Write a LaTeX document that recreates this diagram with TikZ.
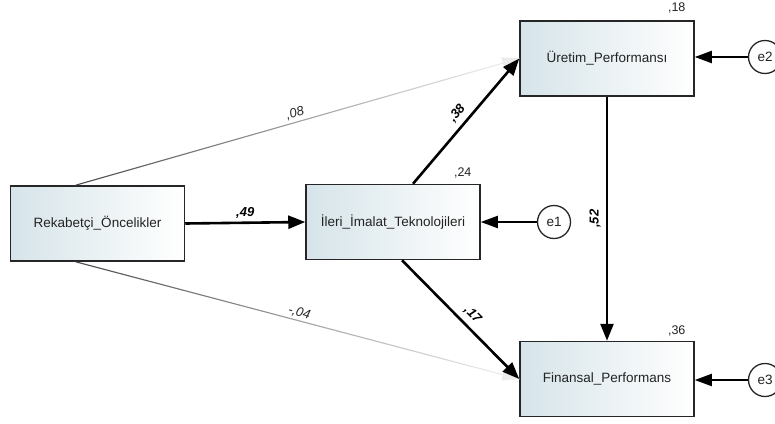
\documentclass[tikz,border=0pt]{standalone}
\usepackage{fontspec}
\setmainfont{Liberation Sans}
\usetikzlibrary{arrows.meta,calc}
\definecolor{boxshade}{RGB}{214,228,233}
\definecolor{txt}{RGB}{35,35,35}

\begin{document}
\begin{tikzpicture}[x=1pt,y=-1pt,
  var/.style={draw=black!85, line width=1.5pt, minimum width=174pt, minimum height=75pt,
    left color=boxshade, right color=white, text=txt, inner sep=0pt,
    font=\fontsize{13.5}{15}\selectfont},
  err/.style={circle, draw=black!85, line width=1.3pt, fill=white, minimum size=33pt,
    inner sep=0pt, text=txt, font=\fontsize{13.5}{15}\selectfont},
  strongarr/.style={line width=2.6pt, -{Triangle[length=17pt,width=13pt]}},
  errarr/.style={line width=2pt, -{Triangle[length=17pt,width=12pt]}},
  coef/.style={font=\fontsize{13}{15}\selectfont\bfseries\itshape, inner sep=1pt},
  weakcoef/.style={font=\fontsize{13}{15}\selectfont\itshape, text=black!85, inner sep=1pt},
  rsq/.style={font=\fontsize{12.5}{14}\selectfont, text=txt, inner sep=0pt}
]
\clip (0,0) rectangle (775,423);

% observed variables
\node[var] (rek)   at (97.5,223.5) {Rekabetçi\_Öncelikler};
\node[var] (ileri) at (393,222)    {İleri\_İmalat\_Teknolojileri};
\node[var] (uret)  at (607,58.5)   {Üretim\_Performansı};
\node[var] (fin)   at (607,379)    {Finansal\_Performans};

% error terms
\node[err] (e1) at (554,222) {e1};
\node[err] (e2) at (765,57)  {e2};
\node[err] (e3) at (765,380) {e3};

% squared multiple correlations
\node[rsq] at ($(ileri.north east)+(-18,-11)$) {,24};
\node[rsq] at ($(uret.north east)+(-18,-12)$)  {,18};
\node[rsq] at ($(fin.north east)+(-18,-10)$)   {,36};

% weak (non-significant) paths, drawn as fading lines
\coordinate (r1) at ([xshift=-22pt]rek.north);
\coordinate (r2) at ([xshift=-22pt]rek.south);
\shade[left color=black!70, right color=black!4]
  ($(r1)+(0,0.6)$) -- ($(uret.west)+(0,0.6)$) -- ($(uret.west)+(0,-0.6)$) -- ($(r1)+(0,-0.6)$) -- cycle;
\draw[line width=0.8pt, black!8, -{Triangle[length=17pt,width=12pt]}]
  ($(r1)!0.95!(uret.west)$) -- (uret.west);
\path (r1) -- node[weakcoef, sloped, above=2pt] {,08} (uret.west);

\shade[left color=black!70, right color=black!4]
  ($(r2)+(0,0.6)$) -- ($(fin.west)+(0,0.6)$) -- ($(fin.west)+(0,-0.6)$) -- ($(r2)+(0,-0.6)$) -- cycle;
\draw[line width=0.8pt, black!8, -{Triangle[length=17pt,width=12pt]}]
  ($(r2)!0.95!(fin.west)$) -- (fin.west);
\path (r2) -- node[weakcoef, sloped, above=1pt] {-,04} (fin.west);

% significant paths
\draw[strongarr] (rek.east) -- node[coef, above=2pt] {,49} (ileri.west);
\draw[strongarr] ([xshift=20pt]ileri.north) -- node[coef, sloped, above=4pt] {,38} (uret.west);
\draw[strongarr] ([xshift=9pt]ileri.south) -- node[coef, sloped, above=4pt, pos=0.53] {,17} (fin.west);
\draw[strongarr] (uret.south) -- (fin.north);
\node[coef, rotate=90] at ($(uret.south)!0.5!(fin.north)+(-12,0)$) {,52};

% error arrows
\draw[errarr] (e1.west) -- (e1.west -| ileri.east);
\draw[errarr] (e2.west) -- (e2.west -| uret.east);
\draw[errarr] (e3.west) -- (e3.west -| fin.east);
\end{tikzpicture}
\end{document}
